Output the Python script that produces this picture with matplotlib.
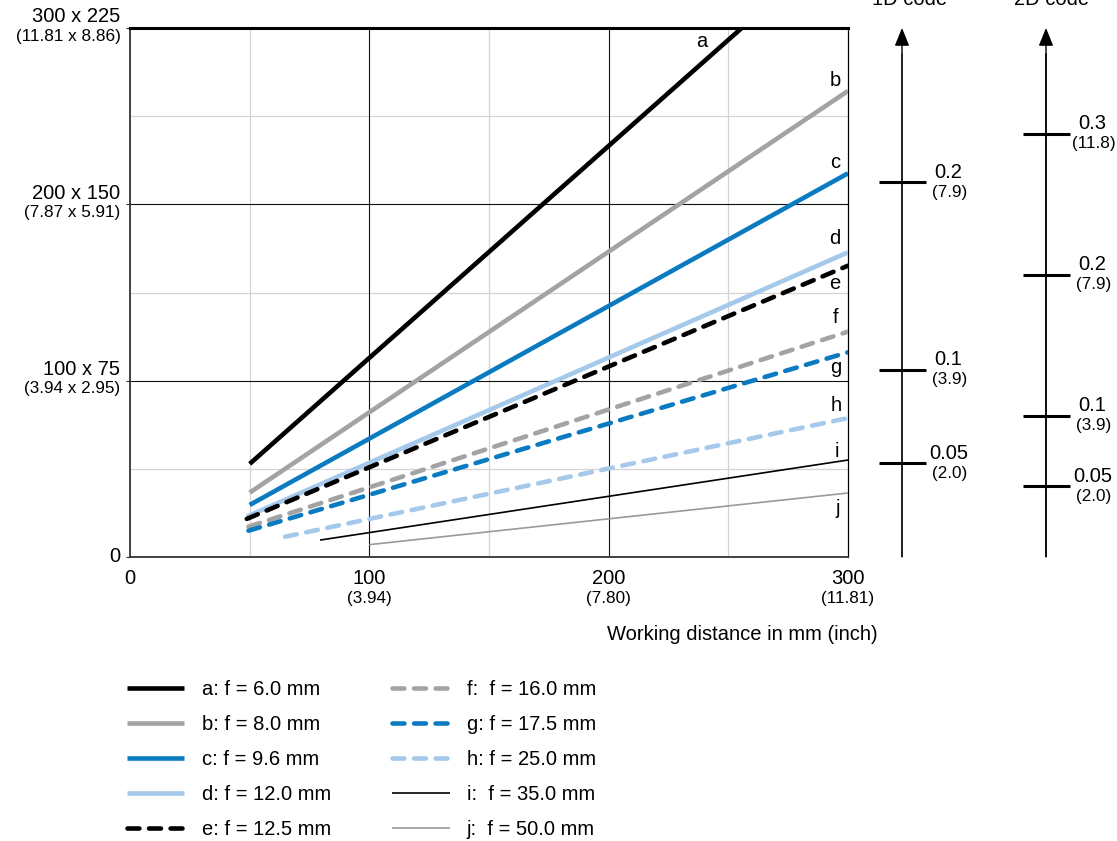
import matplotlib
matplotlib.use("Agg")
import matplotlib.pyplot as plt
from matplotlib.transforms import offset_copy

plt.rcParams["font.family"] = ["Liberation Sans", "DejaVu Sans"]

# field of view lines: working distance (mm) -> field width (mm)
names = ["a", "b", "c", "d", "e", "f", "g", "h", "i", "j"]
focal = ["6.0", "8.0", "9.6", "12.0", "12.5", "16.0", "17.5", "25.0", "35.0", "50.0"]
x_start = [50, 50, 50, 48.8, 48.8, 49.5, 49.5, 64.8, 79.4, 100]
x_end = [255.6, 300, 300, 300, 300, 300, 300, 300, 300, 300]
y_start = [52.8, 36.5, 29.5, 22.9, 21.6, 17.2, 14.9, 11.5, 9.6, 7.0]
y_end = [300, 264.3, 217.6, 172.8, 165.2, 127.8, 116.1, 78.8, 55.0, 36.3]
label_x = [238.9, 294.6, 294.6, 294.6, 294.6, 294.6, 295.0, 295.0, 295.5, 295.5]
label_y = [292.3, 270, 224, 180.4, 154.9, 136.1, 107.2, 86.2, 59.7, 27.6]

BLACK = "#000000"
GRAY = "#a3a3a3"
BLUE = "#0a7bc1"
LBLUE = "#a5c9eb"
colors = [BLACK, GRAY, BLUE, LBLUE, BLACK, GRAY, BLUE, LBLUE, BLACK, "#9a9a9a"]
styles = ["-", "-", "-", "-", "--", "--", "--", "--", "-", "-"]
widths = [3.3, 3.3, 3.3, 3.3, 3.3, 3.3, 3.3, 3.3, 1.2, 1.2]

x_ticks = [0, 100, 200, 300]
x_inch = ["", "(3.94)", "(7.80)", "(11.81)"]
y_ticks = [0, 100, 200, 300]
y_main = ["0", "100 x 75", "200 x 150", "300 x 225"]
y_inch = ["", "(3.94 x 2.95)", "(7.87 x 5.91)", "(11.81 x 8.86)"]

# code resolution scales (mm, inch in parentheses)
res_1d = [0.2, 0.1, 0.05]
res_1d_lbl = ["0.2", "0.1", "0.05"]
res_1d_in = ["(7.9)", "(3.9)", "(2.0)"]
res_2d = [0.3, 0.2, 0.1, 0.05]
res_2d_lbl = ["0.3", "0.2", "0.1", "0.05"]
res_2d_in = ["(11.8)", "(7.9)", "(3.9)", "(2.0)"]

BIG = 14.5
SMALL = 12.3

W, H = 1117, 841
fig = plt.figure(figsize=(W / 100, H / 100), dpi=100)


def fx(px):
    return px / W


def fy(py):
    return 1 - py / H


ax = fig.add_axes([fx(130), fy(557), fx(848) - fx(130), fy(28) - fy(557)])
ax.set_xlim(0, 300)
ax.set_ylim(0, 300)

for v in [50, 150, 250]:
    ax.axvline(v, color="#d4d4d4", lw=0.9, zorder=0)
    ax.axhline(v, color="#d4d4d4", lw=0.9, zorder=0)
for v in [100, 200]:
    ax.axvline(v, color="#111111", lw=0.8, zorder=0.5)
    ax.axhline(v, color="#111111", lw=0.8, zorder=0.5)

for s in ["left", "bottom"]:
    ax.spines[s].set_color("#333333")
    ax.spines[s].set_linewidth(1.3)
ax.spines["top"].set_linewidth(2.2)
ax.spines["right"].set_linewidth(0.9)

handles = []
for i in range(len(names)):
    (ln,) = ax.plot(
        [x_start[i], x_end[i]],
        [y_start[i], y_end[i]],
        color=colors[i],
        ls=styles[i],
        lw=widths[i],
        solid_capstyle="butt",
        dash_capstyle="round",
        zorder=3,
    )
    if styles[i] == "--":
        ln.set_dashes((2.6, 2.1))
    gap = "  " if names[i] in ("f", "i", "j") else " "
    ln.set_label(f"{names[i]}:{gap}f = {focal[i]} mm")
    handles.append(ln)
    ax.text(label_x[i], label_y[i], names[i], fontsize=BIG, ha="center", va="center")

ax.set_xticks(x_ticks)
ax.set_yticks(y_ticks)
ax.set_xticklabels([])
ax.set_yticklabels([])
ax.tick_params(axis="x", length=0)
ax.tick_params(axis="y", length=3, color="#333333")

for v, m, p in zip(y_ticks, y_main, y_inch):
    ax.text(-4, v, m, fontsize=BIG, ha="right", va="center",
            transform=offset_copy(ax.transData, fig=fig, y=11 if p else 0, units="dots"))
    if p:
        ax.text(-4, v, p, fontsize=SMALL, ha="right", va="center",
                transform=offset_copy(ax.transData, fig=fig, y=-8, units="dots"))

for v, p in zip(x_ticks, x_inch):
    ax.text(v, 0, str(v), fontsize=BIG, ha="center", va="center",
            transform=offset_copy(ax.transData, fig=fig, y=-21, units="dots"))
    if p:
        ax.text(v, 0, p, fontsize=SMALL, ha="center", va="center",
                transform=offset_copy(ax.transData, fig=fig, y=-41, units="dots"))

fig.text(fx(878), fy(634), "Working distance in mm (inch)", fontsize=BIG,
         ha="right", va="center")


def code_scale(center_px, top_val, vals, lbls, inch, line_color, title, title_px):
    sax = fig.add_axes([fx(center_px - 50), fy(557), fx(100), fy(28) - fy(557)])
    sax.set_xlim(-1, 1)
    sax.set_ylim(0, top_val)
    sax.axis("off")
    sax.annotate("", xy=(0, 1), xytext=(0, 0),
                 xycoords=("data", "axes fraction"),
                 textcoords=("data", "axes fraction"),
                 arrowprops=dict(arrowstyle="-|>,head_length=1.1,head_width=0.45",
                                 color=BLACK, lw=1.0, shrinkA=0, shrinkB=0))
    sax.plot([0, 0], [0, top_val * 0.95], color=line_color, lw=1.1)
    sax.hlines(vals, -0.47, 0.47, color=BLACK, lw=2.2)
    for v, l, p in zip(vals, lbls, inch):
        sax.text(0.93, v, l, fontsize=BIG, ha="center", va="center",
                 transform=offset_copy(sax.transData, fig=fig, y=10, units="dots"))
        sax.text(0.95, v, p, fontsize=SMALL, ha="center", va="center",
                 transform=offset_copy(sax.transData, fig=fig, y=-10, units="dots"))
    fig.text(fx(title_px), fy(5), title, fontsize=BIG, ha="center", va="baseline")


code_scale(902, 529 / 1873, res_1d, res_1d_lbl, res_1d_in, "#555555", "1D code", 910)
code_scale(1046, 529 / 1410.7, res_2d, res_2d_lbl, res_2d_in, BLACK, "2D code", 1052)

fig.legend(
    handles=handles,
    loc="upper left",
    bbox_to_anchor=(fx(127), fy(680)),
    ncol=2,
    frameon=False,
    fontsize=BIG,
    handlelength=2.85,
    handletextpad=0.85,
    columnspacing=3.05,
    labelspacing=0.79,
    borderpad=0,
    borderaxespad=0,
)

fig.savefig("out.png", dpi=100)
